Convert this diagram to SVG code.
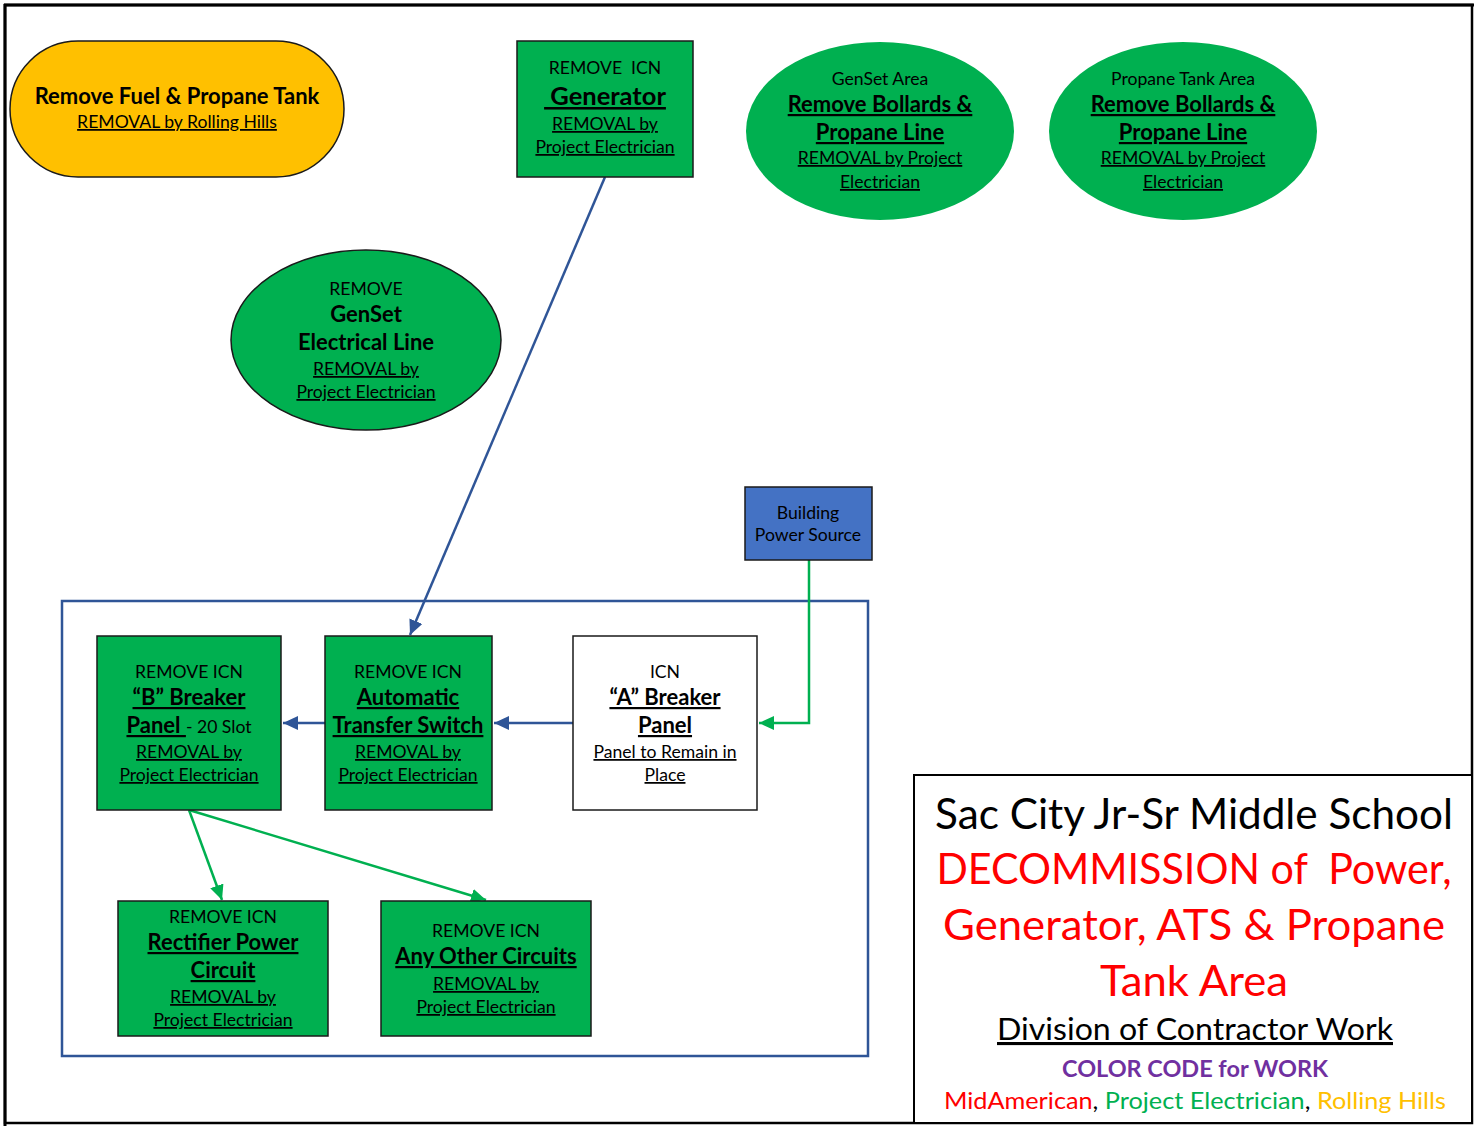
<svg xmlns="http://www.w3.org/2000/svg" width="1474" height="1126" viewBox="0 0 1474 1126">
<defs>
<style>
text{font-family:Lato,"Open Sans","Liberation Sans",sans-serif;text-anchor:middle;fill:#000}
.s{font-size:17.6px}
.u{text-decoration:underline}
.b{font-weight:bold;font-size:22px}
.g{fill:#00B050;stroke:#1a1a1a;stroke-width:1.5}
.blue{stroke:#2F5597;stroke-width:2.5;fill:none}
.grn{stroke:#00B050;stroke-width:2.5;fill:none}
.t{font-size:43px}
</style>
<marker id="ab" markerUnits="userSpaceOnUse" markerWidth="16" markerHeight="14" viewBox="0 0 16 14" refX="15" refY="7" orient="auto"><path d="M0,0 L15,7 L0,14 Z" fill="#2F5597"/></marker>
<marker id="ag" markerUnits="userSpaceOnUse" markerWidth="16" markerHeight="14" viewBox="0 0 16 14" refX="15" refY="7" orient="auto"><path d="M0,0 L15,7 L0,14 Z" fill="#00B050"/></marker>
</defs>
<rect x="0" y="0" width="1474" height="1126" fill="#fff"/>
<g id="frame">
<rect x="5" y="5" width="1467" height="1118" fill="none" stroke="#000" stroke-width="2.5"/>
<line x1="4" y1="5" x2="1474" y2="5" stroke="#000" stroke-width="3"/>
<line x1="5" y1="4" x2="5" y2="1126" stroke="#000" stroke-width="3"/>
</g>
<g id="container">
<rect x="62" y="601" width="806" height="455" fill="none" stroke="#2F5597" stroke-width="2.5"/>
</g>
<g id="connectors">
<line class="blue" x1="605" y1="177" x2="410" y2="635" marker-end="url(#ab)"/>
<line class="blue" x1="573" y1="723" x2="494" y2="723" marker-end="url(#ab)"/>
<line class="blue" x1="325" y1="723" x2="283" y2="723" marker-end="url(#ab)"/>
<polyline class="grn" points="809,560 809,723 759,723" marker-end="url(#ag)"/>
<line class="grn" x1="189" y1="810" x2="222" y2="900" marker-end="url(#ag)"/>
<line class="grn" x1="189" y1="810" x2="486" y2="900" marker-end="url(#ag)"/>
</g>
<g id="fuel-tank">
<rect x="10" y="41" width="334" height="136" rx="68" ry="68" fill="#FFC000" stroke="#1a1a1a" stroke-width="1.5"/>
<text x="177" y="104" class="b">Remove Fuel &amp; Propane Tank</text>
<text x="177" y="128" class="s u">REMOVAL by Rolling Hills</text>
</g>
<g id="generator">
<rect x="517" y="41" width="176" height="136" class="g"/>
<text x="605" y="74" class="s" xml:space="preserve">REMOVE  ICN</text>
<text x="605" y="105" class="b u" style="font-size:25.5px" xml:space="preserve"> Generator</text>
<text x="605" y="130" class="s u">REMOVAL by</text>
<text x="605" y="153" class="s u">Project Electrician</text>
</g>
<g id="genset-area">
<ellipse cx="880" cy="131" rx="134" ry="89" fill="#00B050"/>
<text x="880" y="85" class="s">GenSet Area</text>
<text x="880" y="112" class="b u">Remove Bollards &amp;</text>
<text x="880" y="140" class="b u">Propane Line</text>
<text x="880" y="164" class="s u">REMOVAL by Project</text>
<text x="880" y="188" class="s u">Electrician</text>
</g>
<g id="propane-area">
<ellipse cx="1183" cy="131" rx="134" ry="89" fill="#00B050"/>
<text x="1183" y="85" class="s">Propane Tank Area</text>
<text x="1183" y="112" class="b u">Remove Bollards &amp;</text>
<text x="1183" y="140" class="b u">Propane Line</text>
<text x="1183" y="164" class="s u">REMOVAL by Project</text>
<text x="1183" y="188" class="s u">Electrician</text>
</g>
<g id="genset-line">
<ellipse cx="366" cy="340" rx="135" ry="90" class="g"/>
<text x="366" y="295" class="s">REMOVE</text>
<text x="366" y="322" class="b">GenSet</text>
<text x="366" y="350" class="b">Electrical Line</text>
<text x="366" y="375" class="s u">REMOVAL by</text>
<text x="366" y="398" class="s u">Project Electrician</text>
</g>
<g id="building-power">
<rect x="745" y="487" width="127" height="73" fill="#4472C4" stroke="#1a1a1a" stroke-width="1.5"/>
<text x="808" y="519" class="s">Building</text>
<text x="808" y="541" class="s">Power Source</text>
</g>
<g id="b-panel">
<rect x="97" y="636" width="184" height="174" class="g"/>
<text x="189" y="678" class="s">REMOVE ICN</text>
<text x="189" y="705" class="b u">“B” Breaker</text>
<text x="189" y="733" class="s"><tspan class="b u" xml:space="preserve">Panel </tspan><tspan>- 20 Slot</tspan></text>
<text x="189" y="758" class="s u">REMOVAL by</text>
<text x="189" y="781" class="s u">Project Electrician</text>
</g>
<g id="ats">
<rect x="325" y="636" width="167" height="174" class="g"/>
<text x="408" y="678" class="s">REMOVE ICN</text>
<text x="408" y="705" class="b u">Automatic</text>
<text x="408" y="733" class="b u">Transfer Switch</text>
<text x="408" y="758" class="s u">REMOVAL by</text>
<text x="408" y="781" class="s u">Project Electrician</text>
</g>
<g id="a-panel">
<rect x="573" y="636" width="184" height="174" fill="#fff" stroke="#1a1a1a" stroke-width="1.5"/>
<text x="665" y="678" class="s">ICN</text>
<text x="665" y="705" class="b u">“A” Breaker</text>
<text x="665" y="733" class="b u">Panel</text>
<text x="665" y="758" class="s u">Panel to Remain in</text>
<text x="665" y="781" class="s u">Place</text>
</g>
<g id="rectifier">
<rect x="118" y="901" width="210" height="135" class="g"/>
<text x="223" y="923" class="s">REMOVE ICN</text>
<text x="223" y="950" class="b u">Rectifier Power</text>
<text x="223" y="978" class="b u">Circuit</text>
<text x="223" y="1003" class="s u">REMOVAL by</text>
<text x="223" y="1026" class="s u">Project Electrician</text>
</g>
<g id="other-circuits">
<rect x="381" y="901" width="210" height="135" class="g"/>
<text x="486" y="937" class="s">REMOVE ICN</text>
<text x="486" y="964" class="b u">Any Other Circuits</text>
<text x="486" y="990" class="s u">REMOVAL by</text>
<text x="486" y="1013" class="s u">Project Electrician</text>
</g>
<g id="title">
<rect x="914" y="775" width="558" height="348" fill="#fff" stroke="#000" stroke-width="2"/>
<text x="1194" y="829" class="t" textLength="518" lengthAdjust="spacingAndGlyphs">Sac City Jr-Sr Middle School</text>
<text x="1194" y="884" class="t" style="fill:#FF0000" textLength="515" lengthAdjust="spacingAndGlyphs" xml:space="preserve">DECOMMISSION of  Power,</text>
<text x="1194" y="940" class="t" style="fill:#FF0000" textLength="502" lengthAdjust="spacingAndGlyphs">Generator, ATS &amp; Propane</text>
<text x="1194" y="996" class="t" style="fill:#FF0000" textLength="188" lengthAdjust="spacingAndGlyphs">Tank Area</text>
<text x="1195" y="1040" class="u" style="font-size:31px" textLength="396" lengthAdjust="spacingAndGlyphs">Division of Contractor Work</text>
<text x="1195" y="1077" style="font-size:23.5px;font-weight:bold;fill:#7030A0" textLength="266" lengthAdjust="spacingAndGlyphs">COLOR CODE for WORK</text>
<text x="1195" y="1109" style="font-size:24px" textLength="502" lengthAdjust="spacingAndGlyphs"><tspan fill="#FF0000">MidAmerican</tspan>, <tspan fill="#00B050">Project Electrician</tspan>, <tspan fill="#FFC000">Rolling Hills</tspan></text>
</g>
</svg>
